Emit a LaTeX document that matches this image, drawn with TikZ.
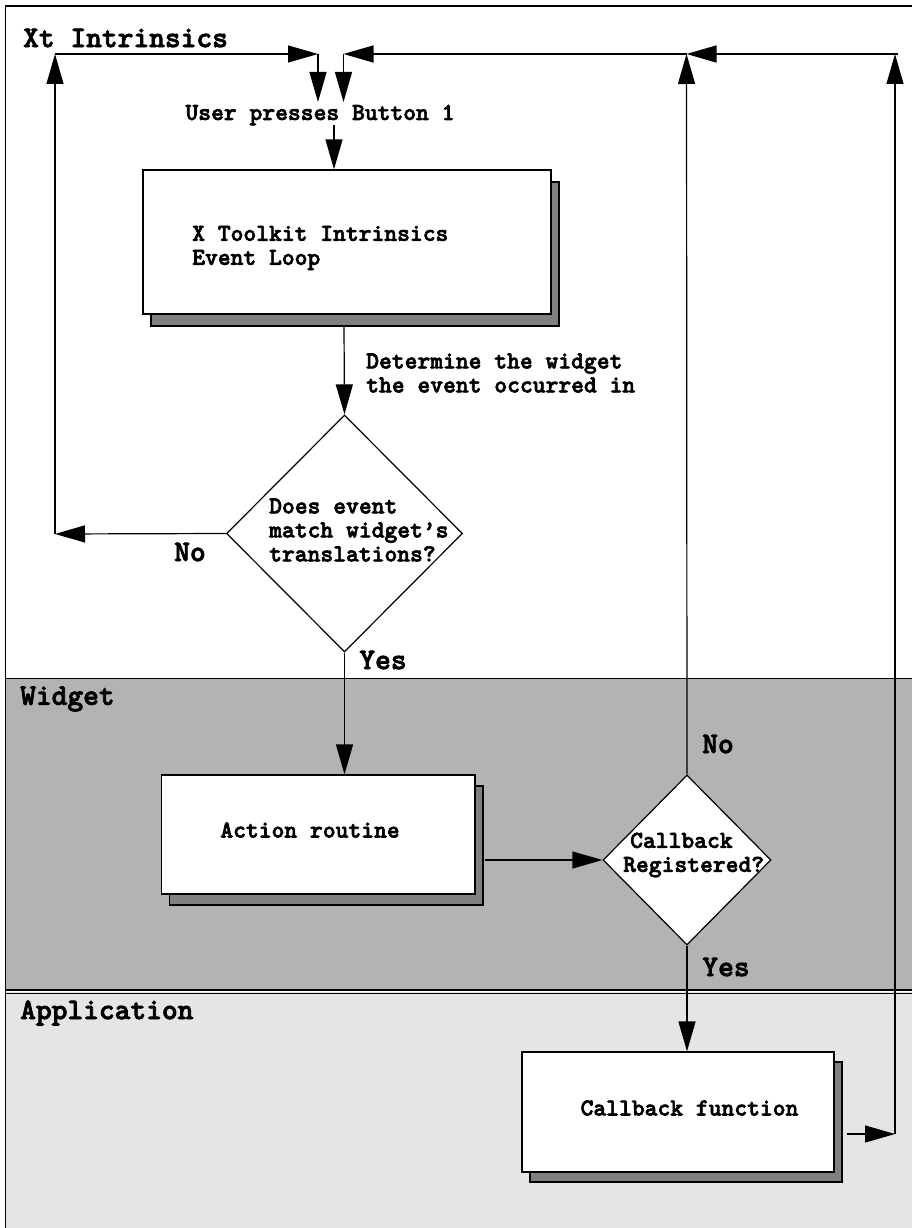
\documentclass[tikz,border=0pt]{standalone}
\usepackage{fontspec}
\newfontfamily\cour[FakeBold=2.5]{lmmonolt10-bold.otf}
\usetikzlibrary{arrows.meta,shapes.geometric,shadows}
\definecolor{widgetgray}{HTML}{B3B3B3}
\definecolor{appgray}{HTML}{E5E5E5}
\definecolor{shadowgray}{HTML}{808080}
\begin{document}
\begin{tikzpicture}[x=1pt,y=-1pt,
  conn/.style={line width=1.2pt},
  arr/.style={conn,-{Triangle[length=30pt,width=17pt]}},
  body/.style={font=\cour\fontsize{24.4}{24}\selectfont, inner sep=0pt, align=left},
  lab/.style={font=\cour\fontsize{30}{30}\selectfont, inner sep=0pt},
  box/.style={draw, line width=1.2pt, fill=white, rectangle, inner sep=0pt},
  shad/.style={general shadow={shadow xshift=8pt, shadow yshift=-#1, fill=shadowgray, draw=black, line width=1.2pt}},
  dec/.style={draw, line width=1.2pt, fill=white, diamond, inner sep=0pt},
  framel/.style={line width=1.8pt}]
\useasboundingbox (0,0) rectangle (911,1228);
% bands
\fill[white] (0,0) rectangle (911,1228);
\fill[widgetgray] (5,678) rectangle (915,991);
\fill[appgray] (5,992) rectangle (915,1232);
\draw[framel] (5.5,1232) -- (5.5,6) -- (915,6);
\draw[line width=1.6pt] (5,678.5) -- (915,678.5);
\draw[line width=1.3pt] (5,990) -- (915,990);
\draw[line width=1.3pt] (5,993.5) -- (915,993.5);
% section labels
\node[lab, anchor=west] (xt) at (23,38) {Xt Intrinsics};
\node[lab, anchor=west] (wid) at (20,699) {Widget};
\node[lab, anchor=west] (app) at (20,1013) {Application};
% boxes
\node[box, shad=12pt, minimum width=408pt, minimum height=144pt] (loop) at (347,242) {};
\node[box, shad=11pt, minimum width=313.5pt, minimum height=119pt] (act) at (318.25,834.5) {};
\node[box, shad=10pt, minimum width=312pt, minimum height=120pt] (cbf) at (678,1112) {};
\node[dec, minimum width=236pt, minimum height=237pt] (dec1) at (344.5,533.5) {};
\node[dec, minimum width=168pt, minimum height=170pt] (dec2) at (687,860) {};
% texts
\node[body] (press) at (320,115) {User presses Button 1};
\node[body, anchor=west] (looptxt) at (192,248) {X Toolkit Intrinsics\\Event Loop};
\node[body, anchor=west] (det) at (366,373) {Determine the widget\\the event occurred in};
\node[body, anchor=west] (dec1txt) at (269,530) {Does event\\match widget’s\\translations?};
\node[body] (acttxt) at (310,830) {Action routine};
\node[body, anchor=west] (dec2txt) at (623,855) {\hspace*{7pt}Callback\\Registered?};
\node[body] (cbtxt) at (689.5,1108) {Callback function};
\node[lab] (no1) at (190,552) {No};
\node[lab] (yes1) at (383,660) {Yes};
\node[lab] (no2) at (718,744) {No};
\node[lab] (yes2) at (726,967) {Yes};
% junctions
\coordinate (tl) at (55,54);
\coordinate (lft) at (55,534);
\coordinate (ja) at (318,54);
\coordinate (jb) at (343.5,54);
\coordinate (jc) at (686.5,54);
\coordinate (tr) at (898,54);
\coordinate (trv) at (895,54);
\coordinate (da) at (318,102);
\coordinate (db) at (343.5,102);
\coordinate (rcb) at (895,1134);
\coordinate (loopbot) at (344,327);
% connectors
\draw[arr] (dec1.west) -- (lft);
\draw[arr] (lft) -- (tl);
\draw[arr] (tl) -- (ja);
\draw[arr] (ja) -- (da);
\draw[arr] (jc) -- (jb);
\draw[arr] (jb) -- (db);
\draw[arr] (tr) -- (jc);
\draw[arr] (dec2.north) -- (jc);
\draw[arr] (rcb) -- (trv);
\draw[arr] ([xshift=12pt]cbf.east |- rcb) -- (rcb);
\draw[arr] ([xshift=14pt]press.south) -- ([xshift=-13pt]loop.north);
\draw[arr] (loopbot) -- (dec1.north);
\draw[arr] (dec1.south) -- (dec1.south |- act.north);
\draw[arr] ([xshift=9pt]act.east |- dec2.west) -- (dec2.west);
\draw[arr] (dec2.south) -- (dec2.south |- cbf.north);
\end{tikzpicture}
\end{document}
